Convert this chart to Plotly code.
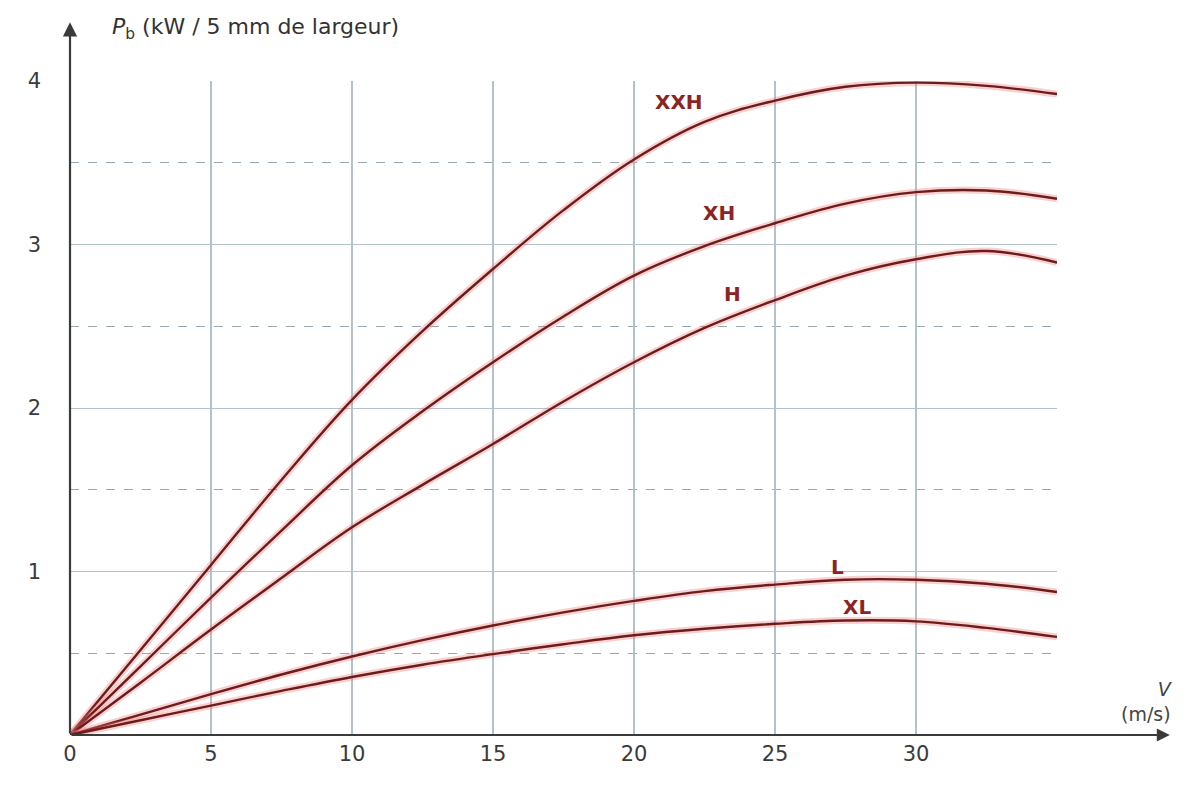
import plotly.graph_objects as go

# ---- data ----
v = [0, 2.5, 5, 7.5, 10, 12.5, 15, 17.5, 20, 22.5, 25, 27.5, 30, 32.5, 35]

p_xxh = [0, 0.52, 1.04, 1.56, 2.05, 2.47, 2.85, 3.21, 3.52, 3.75, 3.88, 3.965, 3.99, 3.97, 3.92]
p_xh = [0, 0.42, 0.84, 1.25, 1.65, 1.98, 2.28, 2.56, 2.81, 2.99, 3.13, 3.25, 3.32, 3.33, 3.28]
p_h = [0, 0.32, 0.645, 0.96, 1.27, 1.53, 1.78, 2.04, 2.28, 2.49, 2.66, 2.81, 2.91, 2.96, 2.89]
p_l = [0, 0.125, 0.25, 0.37, 0.48, 0.58, 0.67, 0.75, 0.82, 0.88, 0.92, 0.95, 0.95, 0.925, 0.875]
p_xl = [0, 0.09, 0.18, 0.27, 0.355, 0.43, 0.495, 0.555, 0.61, 0.65, 0.68, 0.70, 0.695, 0.655, 0.60]

series_names = ["XXH", "XH", "H", "L", "XL"]
series_values = [p_xxh, p_xh, p_h, p_l, p_xl]
label_pos = [(21.6, 3.87), (23.0, 3.19), (23.5, 2.70), (27.2, 1.03), (27.9, 0.78)]

x_ticks = [0, 5, 10, 15, 20, 25, 30]
x_ticktext = ["0", "5", "10", "15", "20", "25", "30"]
x_minor = [35]
y_ticks = [1, 2, 3, 4]
y_ticktext = ["1", "2", "3", "4"]
y_minor = [0.5, 1.5, 2.5, 3.5]

y_title = "<i>P</i><sub>b</sub> (kW / 5 mm de largeur)"
x_title = "<i>V</i><br>(m/s)"

curve_color = "#6e1b1b"
halo_color = "rgba(235,120,120,0.35)"
label_color = "#8c2424"
grid_color = "#b3c1cb"
dash_color = "#9aa8b2"
axis_color = "#3a3a3a"
font_family = "DejaVu Sans"

fig = go.Figure()

for name, vals in zip(series_names, series_values):
    fig.add_trace(go.Scatter(
        x=v, y=vals, mode="lines", name=name + " halo",
        line=dict(color=halo_color, width=7, shape="spline", smoothing=1.1),
        hoverinfo="skip", showlegend=False))
    fig.add_trace(go.Scatter(
        x=v, y=vals, mode="lines", name=name,
        line=dict(color=curve_color, width=2.4, shape="spline", smoothing=1.1),
        showlegend=False))

for name, (lx, ly) in zip(series_names, label_pos):
    fig.add_annotation(x=lx, y=ly, xref="x", yref="y", text="<b>" + name + "</b>",
                       showarrow=False, font=dict(family=font_family, size=20, color=label_color))

# axis arrows
fig.add_annotation(x=0, y=4.36, ax=0, ay=0, xref="x", yref="y", axref="x", ayref="y",
                   text="", showarrow=True, arrowhead=2, arrowsize=1.3, arrowwidth=2.2,
                   arrowcolor=axis_color)
fig.add_annotation(x=39.0, y=0, ax=0, ay=0, xref="x", yref="y", axref="x", ayref="y",
                   text="", showarrow=True, arrowhead=2, arrowsize=1.3, arrowwidth=2.0,
                   arrowcolor=axis_color)

# axis titles
fig.add_annotation(x=0, y=1.0, xref="paper", yref="paper", xanchor="left", yanchor="bottom",
                   xshift=40, yshift=36, text=y_title, showarrow=False,
                   font=dict(family=font_family, size=22, color="#333333"))
fig.add_annotation(x=1.0, y=0, xref="paper", yref="y", xanchor="right", yanchor="bottom",
                   xshift=118, yshift=8, text=x_title, showarrow=False, align="right",
                   font=dict(family=font_family, size=19, color="#444444"))

fig.update_xaxes(
    range=[0, 35], tickvals=x_ticks, ticktext=x_ticktext,
    showgrid=True, gridcolor=grid_color, gridwidth=1.5,
    minor=dict(tickvals=x_minor, showgrid=True, gridcolor=grid_color, gridwidth=1.5),
    zeroline=False, showline=False, ticks="", ticklabelstandoff=4, automargin=False,
    tickfont=dict(family=font_family, size=21, color="#3a3a3a"),
)
fig.update_yaxes(
    range=[0, 4], tickvals=y_ticks, ticktext=y_ticktext,
    showgrid=True, gridcolor=grid_color, gridwidth=1.2,
    minor=dict(tickvals=y_minor, showgrid=True, gridcolor=dash_color,
               griddash="dash", gridwidth=1.2),
    zeroline=False, showline=False, ticks="", ticklabelstandoff=28, automargin=False,
    tickfont=dict(family=font_family, size=21, color="#3a3a3a"),
)

fig.update_layout(
    width=1181, height=777,
    margin=dict(l=62, r=132, t=73, b=50),
    plot_bgcolor="white", paper_bgcolor="white",
    showlegend=False,
)

fig.write_html("out.html")
